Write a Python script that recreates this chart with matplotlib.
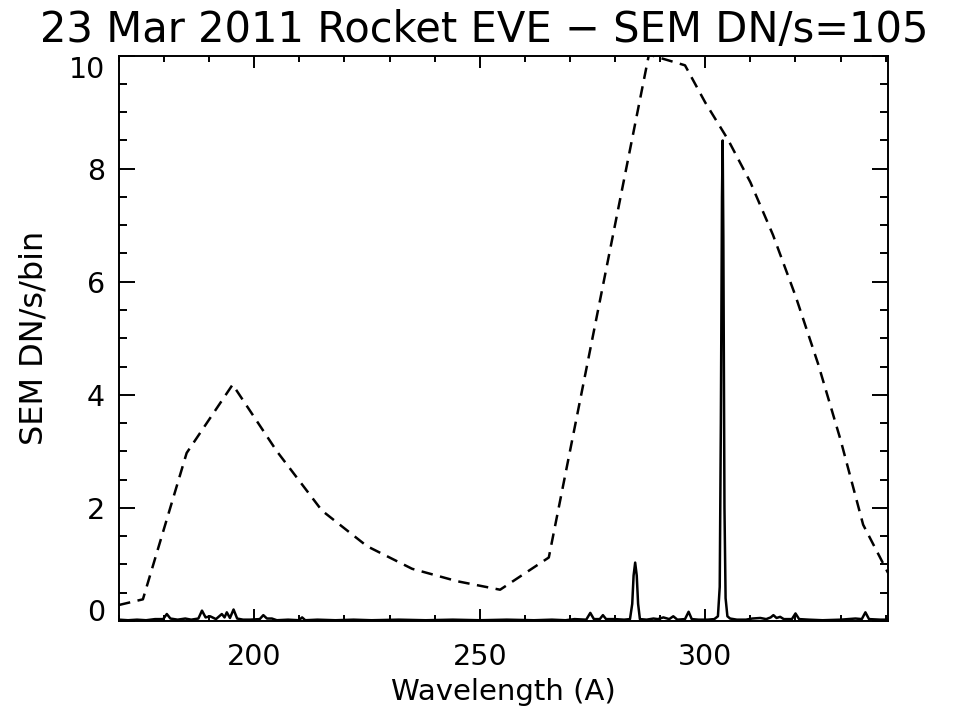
import matplotlib
matplotlib.use("Agg")
import matplotlib.pyplot as plt
from matplotlib.ticker import MultipleLocator

# Dashed curve (scaled effective-area style envelope)
env_wave = [170.0, 175.3, 185.0, 195.2, 205.0, 215.0, 225.0, 235.0, 245.0, 254.5,
            265.3, 287.5, 295.5, 300.0, 305.0, 310.0, 315.0, 320.0, 325.0, 330.0,
            335.0, 340.5]
env_val = [0.28, 0.38, 2.97, 4.18, 3.0, 1.95, 1.32, 0.92, 0.70, 0.55,
           1.12, 10.02, 9.83, 9.17, 8.52, 7.76, 6.83, 5.75, 4.55, 3.2,
           1.7, 0.85]

# Solid spectrum
spec_wave = [170.0, 172.0, 174.0, 176.0, 178.0, 179.8, 180.6, 181.4, 183.0, 184.7,
             186.0, 187.6, 188.4, 189.2, 190.2, 191.5, 192.8, 193.4, 193.9, 194.6,
             195.4, 196.2, 197.5, 199.0, 201.2, 202.0, 202.8, 203.9, 205.0, 207.5,
             209.9, 210.6, 211.3, 214.0, 218.0, 222.0, 226.0, 232.0, 238.0, 244.0,
             250.0, 256.0, 262.0, 266.0, 269.0, 271.0, 273.6, 274.5, 275.3, 276.6,
             277.3, 278.0, 280.0, 282.0, 283.3, 283.8, 284.1, 284.45, 284.8, 285.1,
             285.5, 287.0, 288.5, 289.5, 290.7, 292.0, 292.9, 293.8, 295.5, 296.3,
             297.0, 298.5, 300.5, 302.0, 302.8, 303.2, 303.45, 303.7, 303.85, 304.0,
             304.25, 304.5, 304.9, 305.5, 307.0, 309.0, 310.4, 312.2, 313.5, 314.5,
             315.1, 315.8, 316.6, 317.4, 319.2, 320.0, 320.8, 323.0, 326.0, 330.0,
             333.3, 334.7, 335.5, 336.3, 338.8, 340.5]
spec_val = [0.02, 0.01, 0.02, 0.01, 0.03, 0.03, 0.12, 0.04, 0.02, 0.04,
            0.02, 0.04, 0.18, 0.06, 0.08, 0.03, 0.12, 0.06, 0.15, 0.05,
            0.20, 0.04, 0.02, 0.02, 0.03, 0.10, 0.04, 0.04, 0.01, 0.02,
            0.01, 0.06, 0.01, 0.02, 0.01, 0.02, 0.01, 0.02, 0.01, 0.02,
            0.01, 0.02, 0.01, 0.02, 0.01, 0.03, 0.02, 0.14, 0.03, 0.03,
            0.10, 0.03, 0.03, 0.02, 0.03, 0.30, 0.80, 1.03, 0.80, 0.30,
            0.03, 0.02, 0.04, 0.03, 0.06, 0.03, 0.08, 0.02, 0.03, 0.16,
            0.03, 0.02, 0.02, 0.03, 0.08, 0.6, 3.5, 7.5, 8.5, 6.8,
            2.0, 0.4, 0.08, 0.04, 0.02, 0.02, 0.04, 0.05, 0.03, 0.06,
            0.10, 0.05, 0.07, 0.03, 0.03, 0.13, 0.03, 0.02, 0.01, 0.02,
            0.04, 0.03, 0.15, 0.03, 0.02, 0.02]

title = "23 Mar 2011 Rocket EVE \u2212 SEM DN/s=105"
xlabel = "Wavelength (A)"
ylabel = "SEM DN/s/bin"
xlim = (170, 340.4)
ylim = (0, 10)
xticks = [200, 250, 300]
yticks = [0, 2, 4, 6, 8, 10]

plt.rcParams['font.family'] = ['DejaVu Sans']

fig = plt.figure(figsize=(9.57, 7.12), dpi=100)
W, H = 957, 712
l, r, t, b = 119, 887.5, 55.7, 620.8
ax = fig.add_axes([l / W, 1 - b / H, (r - l) / W, (b - t) / H])

ax.plot(spec_wave, spec_val, color='black', lw=1.8, clip_on=True)
ax.plot(env_wave, env_val, color='black', lw=1.8, linestyle=(0, (4.6, 3.0)), clip_on=True)

ax.set_xlim(*xlim)
ax.set_ylim(*ylim)
ax.set_xticks(xticks)
ax.set_yticks(yticks)
ax.xaxis.set_minor_locator(MultipleLocator(10))
ax.yaxis.set_minor_locator(MultipleLocator(0.5))

ax.tick_params(axis='x', which='major', direction='in', length=8.3, width=1.4,
               top=True, bottom=True, labelsize=20.5, pad=16, colors='black')
ax.tick_params(axis='x', which='minor', direction='in', length=4.1, width=1.4,
               top=True, bottom=True)
ax.tick_params(axis='y', which='major', direction='in', length=11.2, width=1.4,
               left=True, right=True, labelsize=20.5, pad=10, colors='black')
ax.tick_params(axis='y', which='minor', direction='in', length=5.5, width=1.4,
               left=True, right=True)
for s in ax.spines.values():
    s.set_linewidth(1.4)

fig.canvas.draw()
for lab in ax.get_yticklabels():
    txt = lab.get_text()
    if txt == '10':
        lab.set_va('top')
    elif txt == '0':
        lab.set_va('baseline')

ax.set_xlabel(xlabel, fontsize=21, labelpad=5)
ax.set_ylabel(ylabel, fontsize=23, labelpad=14)

fig.text(484 / W, 1 - 42 / H, title, ha='center', va='baseline', fontsize=30)

fig.savefig("out.png", dpi=100)
